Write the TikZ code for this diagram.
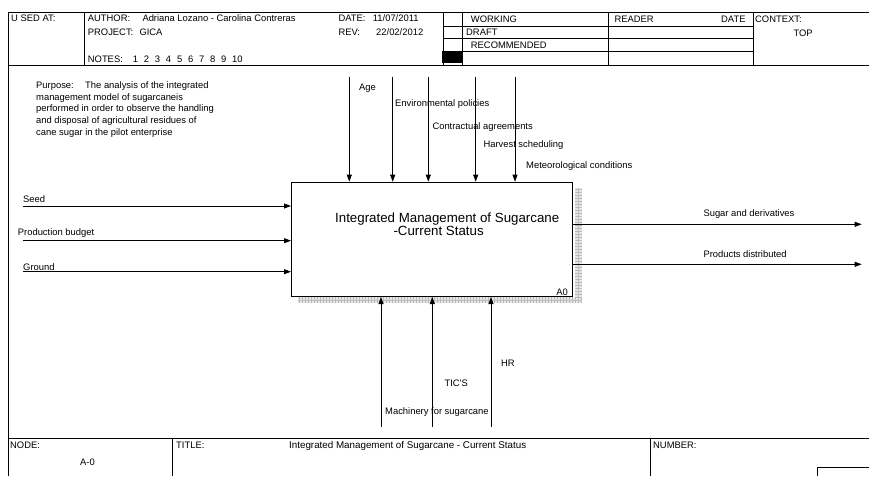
\documentclass[tikz,border=0pt]{standalone}
\usepackage{fontspec}
\setmainfont{Liberation Sans}
\usetikzlibrary{arrows.meta}

\begin{document}
\begin{tikzpicture}[x=1pt,y=-1pt,
  frame/.style={line width=0.8pt},
  txt/.style={font=\fontsize{9.4}{11.7}\selectfont, anchor=base west, inner sep=0pt},
  flow/.style={line width=0.8pt, -{Triangle[length=7pt,width=5pt]}},
  shade/.style={gray!20},
  tick/.style={gray!55, line width=0.4pt}]
\useasboundingbox (0,0) rectangle (869,476);

% ---------- header block ----------
\draw[frame] (8.7,476) -- (8.7,12) -- (869,12);
\draw[frame] (8.7,65.7) -- (869,65.7);
\draw[frame] (84,12) -- (84,65.7);
\draw[frame] (443,12) -- (443,66.5);
\draw[frame] (462,12) -- (462,66.5);
\draw[frame] (608.7,12) -- (608.7,65.7);
\draw[frame] (753.3,12) -- (753.3,65.7);
\foreach \yy in {26,38.3,51} \draw[frame] (443,\yy) -- (753.3,\yy);
\fill (442,51) rectangle (462.3,62.7);

\node[txt] (usedat) at (11,21.7) {U SED AT:};
\node[txt] (author) at (87.7,21.7) {AUTHOR:};
\node[txt] (authors) at (142.3,21.7) {Adriana Lozano - Carolina Contreras};
\node[txt] (project) at (87.7,35.1) {PROJECT:};
\node[txt] (gica) at (139.3,35.1) {GICA};
\node[txt] (notes) at (87.7,62.3) {NOTES:};
\node[txt] (notenums) at (132.7,62.3) {1\hspace{5.8pt}2\hspace{5.8pt}3\hspace{5.8pt}4\hspace{5.8pt}5\hspace{5.8pt}6\hspace{5.8pt}7\hspace{5.8pt}8\hspace{5.8pt}9\hspace{5.8pt}10};
\node[txt] (date) at (338.3,21.7) {DATE:};
\node[txt] (dateval) at (372.7,21.7) {11/07/2011};
\node[txt] (rev) at (338.3,35.1) {REV:};
\node[txt] (revval) at (376,35.1) {22/02/2012};
\node[txt] (working) at (470.7,22.7) {WORKING};
\node[txt] (draft) at (466,35.7) {DRAFT};
\node[txt] (recommended) at (470.7,48.4) {RECOMMENDED};
\node[txt] (reader) at (614.3,22.7) {READER};
\node[txt] (rdate) at (721,22.7) {DATE};
\node[txt] (context) at (755,22.7) {CONTEXT:};
\node[txt] (top) at (793.3,36.7) {TOP};

% ---------- purpose ----------
\node[txt, anchor=north west, align=left] (purpose) at (36,81.5)
  {Purpose:\hspace{11.4pt}The analysis of the integrated\\
   management model of sugarcaneis\\
   performed in order to observe the handling\\
   and disposal of agricultural residues of\\
   cane sugar in the pilot enterprise};

% ---------- activity box with shadow ----------
\fill[shade] (575,188) rectangle (582,303);
\fill[shade] (298,297) rectangle (582,303);
\foreach \yy in {189,192,...,302} \draw[tick] (575,\yy) -- (582,\yy);
\foreach \xx in {299,302,...,581} \draw[tick] (\xx,297) -- (\xx,303);
\draw[gray!50, line width=0.6pt] (578.5,188) -- (578.5,303);
\draw[gray!50, line width=0.6pt] (298,300) -- (582,300);

\node[draw, line width=1pt, fill=white, anchor=north west, inner sep=0pt,
      minimum width=280.7pt, minimum height=114.3pt] (A0) at (291,181.7) {};
\node[anchor=base west, inner sep=0pt, align=left,
      font=\fontsize{13.3}{12.7}\selectfont] (A0text) at (335,235)
  {Integrated Management of Sugarcane\\\hspace*{58.3pt}-Current Status};
\node[txt, anchor=base east] (A0num) at (568,295) {A0};

% ---------- inputs ----------
\coordinate (in1) at (23,206);
\coordinate (in2) at (23,240.7);
\coordinate (in3) at (23,271.7);
\draw[flow] (in1) -- (in1 -| A0.west);
\draw[flow] (in2) -- (in2 -| A0.west);
\draw[flow] (in3) -- (in3 -| A0.west);
\node[txt] (seed) at (23,202.7) {Seed};
\node[txt] (budget) at (17.7,235) {Production budget};
\node[txt] (ground) at (23,270.5) {Ground};

% ---------- controls ----------
\coordinate (c1) at (349.3,76.7);
\coordinate (c2) at (392.7,76.7);
\coordinate (c3) at (428.3,76.7);
\coordinate (c4) at (475.7,76.7);
\coordinate (c5) at (515,76.7);
\foreach \c in {c1,c2,c3,c4,c5} \draw[flow] (\c) -- (\c |- A0.north);
\node[txt] (age) at (359,90.1) {Age};
\node[txt] (envpol) at (395,106.4) {Environmental policies};
\node[txt] (contract) at (432.3,129.4) {Contractual agreements};
\node[txt] (harvest) at (483.3,147.4) {Harvest scheduling};
\node[txt] (meteo) at (526,168.4) {Meteorological conditions};

% ---------- outputs ----------
\coordinate (o1) at (861.7,224.3);
\coordinate (o2) at (861.7,264.3);
\draw[flow] (o1 -| A0.east) -- (o1);
\draw[flow] (o2 -| A0.east) -- (o2);
\node[txt] (sugar) at (703.3,216.7) {Sugar and derivatives};
\node[txt] (products) at (703.3,257.4) {Products distributed};

% ---------- mechanisms ----------
\coordinate (m1) at (381,426.7);
\coordinate (m2) at (432.3,426.7);
\coordinate (m3) at (491,426.7);
\foreach \m in {m1,m2,m3} \draw[flow] (\m) -- (\m |- A0.south);
\node[txt] (hr) at (501,366.7) {HR};
\node[txt] (tics) at (444.3,386.1) {TIC'S};
\node[txt] (machinery) at (385,414.1) {Machinery for sugarcane};

% ---------- title block ----------
\draw[frame] (8.7,438) -- (869,438);
\draw[frame] (172,438) -- (172,476);
\draw[frame] (650,438) -- (650,476);
\draw[frame] (817,476) -- (817,467) -- (869,467);
\node[txt] (node) at (10,448.5) {NODE:};
\node[txt] (nodeval) at (80,465.5) {A-0};
\node[txt] (title) at (176,448.5) {TITLE:};
\node[txt, font=\fontsize{9.8}{12}\selectfont] (titleval) at (289,448.5)
  {Integrated Management of Sugarcane - Current Status};
\node[txt] (number) at (653,448.5) {NUMBER:};
\end{tikzpicture}
\end{document}
